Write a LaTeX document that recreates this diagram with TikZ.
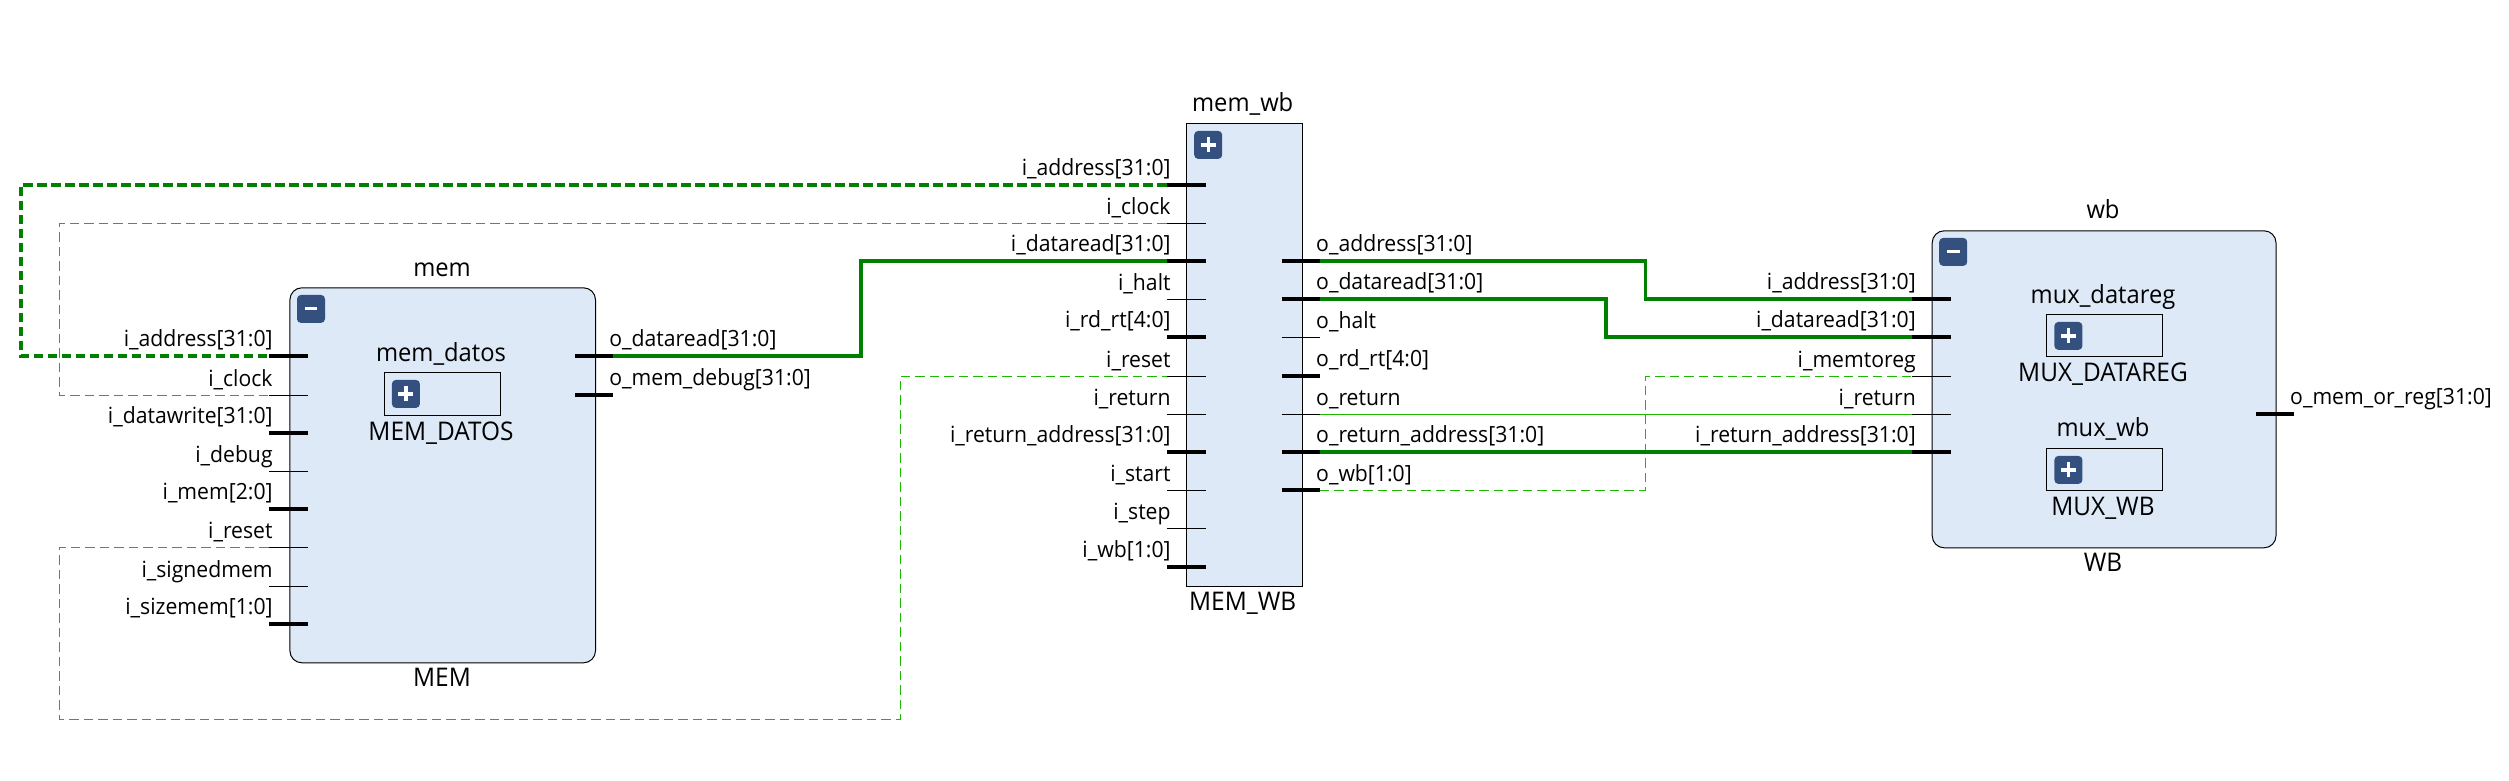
\documentclass[tikz,border=0pt]{standalone}
\usepackage{fontspec}
\setmainfont[FakeStretch=0.95]{Open Sans}
\definecolor{blockfill}{HTML}{DEE9F8}
\definecolor{iconblue}{HTML}{34507F}
\definecolor{wiredark}{HTML}{008000}
\definecolor{wirelight}{HTML}{1DB800}
\tikzset{
  lbl/.style={font=\fontsize{22.3}{26}\selectfont,inner sep=0pt,text=black},
  ttl/.style={font=\fontsize{25}{29}\selectfont,inner sep=0pt,text=black},
  ttlcaps/.style={font=\fontsize{25.7}{29}\selectfont,inner sep=0pt,text=black},
  blockround/.style={draw=black,fill=blockfill,line width=1pt,rounded corners=12pt,inner sep=0pt,anchor=north west},
  blocksharp/.style={draw=black,fill=blockfill,line width=1.1pt,inner sep=0pt,anchor=north west},
  innerbox/.style={draw=black,fill=blockfill,line width=1pt,inner sep=0pt,anchor=north west},
  iconbox/.style={fill=iconblue,rounded corners=4pt,minimum width=28pt,minimum height=28pt,inner sep=0pt,anchor=north west},
  busstub/.style={line width=3.8pt,black},
  netstub/.style={line width=1.1pt,black},
  buswire/.style={line width=3.6pt,wiredark,miter limit=10},
  buswiredash/.style={line width=4pt,wiredark,miter limit=10,dash pattern=on 9.5pt off 4.5pt},
  netwire/.style={line width=1.2pt,wirelight},
  netwiredash/.style={netwire,dash pattern=on 9.5pt off 5pt},
}
% #1 name, #2 stub start x, #3 y, #4 label, #5 stub style
\newcommand{\portleft}[5]{%
  \coordinate (#1) at (#2,#3);
  \coordinate (#1e) at ({#2+39},#3);
  \draw[#5] (#1) -- (#1e);
  \node[lbl,anchor=base east] (#1l) at ({#2+4},{#3-9.2}) {#4};
}
% #1 name, #2 stub end x, #3 y, #4 label, #5 stub style
\newcommand{\portright}[5]{%
  \coordinate (#1) at (#2,#3);
  \coordinate (#1e) at ({#2-38},#3);
  \draw[#5] (#1e) -- (#1);
  \node[lbl,anchor=base west] (#1l) at ({#2-3.8},{#3-9.2}) {#4};
}
\newcommand{\iconplus}[3]{%
  \node[iconbox] (#1) at (#2,#3) {};
  \draw[white,line width=3.4pt] ([xshift=-7.5pt]#1.center) -- ([xshift=7.5pt]#1.center);
  \draw[white,line width=3.4pt] ([yshift=-7.5pt]#1.center) -- ([yshift=7.5pt]#1.center);
}
\newcommand{\iconminus}[3]{%
  \node[iconbox] (#1) at (#2,#3) {};
  \draw[white,line width=3pt] ([xshift=-6.3pt]#1.center) -- ([xshift=6.3pt]#1.center);
}
\begin{document}
\begin{tikzpicture}[x=1pt,y=-1pt]
\useasboundingbox (0,0) rectangle (2509,780);

% blocks
\node[blockround,minimum width=305.6pt,minimum height=375pt] (mem) at (289.4,287.3) {};
\node[blocksharp,minimum width=115.6pt,minimum height=462.4pt] (memwb) at (1186,123.3) {};
\node[blockround,minimum width=343.8pt,minimum height=317pt] (wb) at (1931.7,230.3) {};

% inner boxes
\node[innerbox,minimum width=115.4pt,minimum height=42.4pt] (memdatos) at (384.2,372.3) {};
\node[innerbox,minimum width=115.3pt,minimum height=42pt] (muxdr) at (2046.4,314.3) {};
\node[innerbox,minimum width=115.3pt,minimum height=42pt] (muxwb) at (2046.4,448.3) {};

% icons
\iconminus{memicon}{296.8}{294.7}
\iconplus{memdatosicon}{391.7}{379.7}
\iconplus{memwbicon}{1194}{130.7}
\iconminus{wbicon}{1939}{237.7}
\iconplus{muxdricon}{2054.2}{321.7}
\iconplus{muxwbicon}{2054.2}{455.7}

% titles
\node[ttl,anchor=base] (memT) at (442,276) {mem};
\node[ttlcaps,anchor=base] (memB) at (442,686.7) {MEM};
\node[ttl,anchor=base] (mdT) at (441,361) {mem\_datos};
\node[ttlcaps,anchor=base] (mdB) at (441,440) {MEM\_DATOS};
\node[ttl,anchor=base] (mwT) at (1242.7,111.7) {mem\_wb};
\node[ttlcaps,anchor=base] (mwB) at (1242.7,610.7) {MEM\_WB};
\node[ttl,anchor=base] (wbT) at (2103,218) {wb};
\node[ttlcaps,anchor=base] (wbB) at (2103,571.7) {WB};
\node[ttl,anchor=base] (mxT) at (2103,303) {mux\_datareg};
\node[ttlcaps,anchor=base] (mxB) at (2103,381.7) {MUX\_DATAREG};
\node[ttl,anchor=base] (mxwT) at (2103,436.7) {mux\_wb};
\node[ttlcaps,anchor=base] (mxwB) at (2103,515.7) {MUX\_WB};

% routing guides
\coordinate (gA) at (20.5,0);
\coordinate (gB) at (59.3,0);
\coordinate (gC) at (860.8,0);
\coordinate (gD) at (900.3,0);
\coordinate (gE) at (1645.3,0);
\coordinate (gF) at (1606,0);
\coordinate (gG) at (0,719.3);
\coordinate (gH) at (0,490.3);

% MEM ports
\portleft{mia}{268.8}{355.7}{i\_address[31:0]}{busstub}
\portleft{mck}{268.8}{395.3}{i\_clock}{netstub}
\portleft{mdw}{268.8}{432.7}{i\_datawrite[31:0]}{busstub}
\portleft{mdb}{268.8}{471.3}{i\_debug}{netstub}
\portleft{mim}{268.8}{508.7}{i\_mem[2:0]}{busstub}
\portleft{mrs}{268.8}{547.3}{i\_reset}{netstub}
\portleft{msg}{268.8}{586.3}{i\_signedmem}{netstub}
\portleft{msz}{268.8}{624}{i\_sizemem[1:0]}{busstub}
\portright{mod}{613}{356}{o\_dataread[31:0]}{busstub}
\portright{mob}{613}{395}{o\_mem\_debug[31:0]}{busstub}

% MEM_WB ports
\portleft{wia}{1166.8}{185}{i\_address[31:0]}{busstub}
\portleft{wck}{1166.8}{223.3}{i\_clock}{netstub}
\portleft{wdr}{1166.8}{261}{i\_dataread[31:0]}{busstub}
\portleft{whl}{1166.8}{299.3}{i\_halt}{netstub}
\portleft{wrd}{1166.8}{337}{i\_rd\_rt[4:0]}{busstub}
\portleft{wrs}{1166.8}{376.3}{i\_reset}{netstub}
\portleft{wrt}{1166.8}{414.3}{i\_return}{netstub}
\portleft{wra}{1166.8}{452}{i\_return\_address[31:0]}{busstub}
\portleft{wst}{1166.8}{490.3}{i\_start}{netstub}
\portleft{wsp}{1166.8}{528.3}{i\_step}{netstub}
\portleft{wwb}{1166.8}{567}{i\_wb[1:0]}{busstub}
\portright{woa}{1319.8}{261}{o\_address[31:0]}{busstub}
\portright{wod}{1319.8}{299}{o\_dataread[31:0]}{busstub}
\portright{woh}{1319.8}{337.3}{o\_halt}{netstub}
\portright{wor}{1319.8}{376}{o\_rd\_rt[4:0]}{busstub}
\portright{wot}{1319.8}{414.3}{o\_return}{netstub}
\portright{woe}{1319.8}{452}{o\_return\_address[31:0]}{busstub}
\portright{wow}{1319.8}{490.3}{o\_wb[1:0]}{busstub}

% WB ports
\portleft{bia}{1912}{299}{i\_address[31:0]}{busstub}
\portleft{bdr}{1912}{337}{i\_dataread[31:0]}{busstub}
\portleft{bmt}{1912}{376.3}{i\_memtoreg}{netstub}
\portleft{brt}{1912}{414.3}{i\_return}{netstub}
\portleft{bra}{1912}{452}{i\_return\_address[31:0]}{busstub}
\portright{bom}{2293.8}{413.7}{o\_mem\_or\_reg[31:0]}{busstub}

% nets
\draw[netwiredash] (wck) -- (wck -| gB) -- (mck -| gB) -- (mck);
\draw[netwiredash] (mrs) -- (mrs -| gB) -- (gB |- gG) -- (gD |- gG) -- (gD |- wrs) -- (wrs);
\draw[netwiredash] (wow) -- (wow -| gE) -- (bmt -| gE) -- (bmt);
\draw[netwire] (wot) -- (brt);
% buses
\draw[buswiredash] (wia) -- (wia -| gA) -- (mia -| gA) -- (mia);
\draw[buswire] (mod) -- (mod -| gC) -- (wdr -| gC) -- (wdr);
\draw[buswire] (woa) -- (woa -| gE) -- (bia -| gE) -- (bia);
\draw[buswire] (wod) -- (wod -| gF) -- (bdr -| gF) -- (bdr);
\draw[buswire] (woe) -- (bra);
\end{tikzpicture}
\end{document}
